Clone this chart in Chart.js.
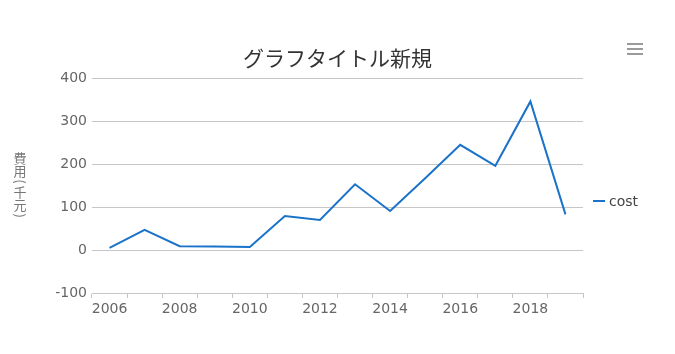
<!DOCTYPE html>
<html>
<head>
<meta charset="utf-8">
<script src="https://cdn.jsdelivr.net/npm/chart.js@4.4.0/dist/chart.umd.min.js"></script>
<style>
html,body{margin:0;padding:0;background:#fff;}
#wrap{width:675px;height:354px;}
</style>
</head>
<body>
<div id="wrap"><canvas id="c" width="675" height="354"></canvas></div>
<script>
const categories = ['2006','2007','2008','2009','2010','2011','2012','2013','2014','2015','2016','2017','2018','2019'];
const costValues = [5, 47, 9, 8, 7, 79, 70, 153, 91, 167, 245, 196, 346, 83];
const yTickValues = [-100, 0, 100, 200, 300, 400];
const chartTitle = 'グラフタイトル新規';
const yAxisTitle = '費用(千元)';
const seriesName = 'cost';

const lineColor = '#1a73c9';
const gridColor = '#c6c6c6';
const tickFont = {family: '"DejaVu Sans", Verdana, sans-serif', size: 14};

const extras = {
  id: 'extras',
  afterDraw(chart) {
    const ctx = chart.ctx;
    const area = chart.chartArea;
    ctx.save();
    // vertical y-axis title (upright CJK, rotated brackets)
    ctx.font = '13px "Noto Sans CJK JP", sans-serif';
    ctx.fillStyle = '#777';
    ctx.textAlign = 'center';
    ctx.textBaseline = 'middle';
    const chars = Array.from(yAxisTitle);
    const adv = chars.map(ch => /[()]/.test(ch) ? ctx.measureText(ch).width + 4 : 13);
    const total = adv.reduce((a, b) => a + b, 0);
    let y = (area.top + area.bottom) / 2 - total / 2;
    const x = 20;
    chars.forEach((ch, i) => {
      const cy = y + adv[i] / 2;
      if (/[()]/.test(ch)) {
        ctx.save();
        ctx.translate(x, cy);
        ctx.rotate(Math.PI / 2);
        ctx.fillText(ch, 0, 0);
        ctx.restore();
      } else {
        ctx.fillText(ch, x, cy);
      }
      y += adv[i];
    });

    // legend
    const ds = chart.data.datasets[0];
    const ly = 201;
    ctx.strokeStyle = ds.borderColor;
    ctx.lineWidth = 2;
    ctx.beginPath();
    ctx.moveTo(area.right + 10, ly);
    ctx.lineTo(area.right + 22, ly);
    ctx.stroke();
    ctx.font = '14px "DejaVu Sans", Verdana, sans-serif';
    ctx.fillStyle = '#444';
    ctx.textAlign = 'left';
    ctx.textBaseline = 'middle';
    ctx.fillText(ds.label, area.right + 26, ly + 1);

    // menu icon
    ctx.strokeStyle = '#9a9a9a';
    ctx.lineWidth = 2;
    [44, 49, 54].forEach(yy => {
      ctx.beginPath();
      ctx.moveTo(627, yy);
      ctx.lineTo(643, yy);
      ctx.stroke();
    });
    ctx.restore();
  }
};

new Chart(document.getElementById('c'), {
  type: 'line',
  data: {
    labels: categories,
    datasets: [{
      label: seriesName,
      data: costValues,
      borderColor: lineColor,
      backgroundColor: lineColor,
      borderWidth: 2,
      pointRadius: 0,
      pointHoverRadius: 0,
      tension: 0,
      fill: false
    }]
  },
  options: {
    responsive: false,
    animation: false,
    layout: {padding: 0},
    plugins: {
      legend: {display: false},
      tooltip: {enabled: false},
      title: {
        display: true,
        text: chartTitle,
        color: '#333',
        font: {family: '"Noto Sans CJK JP", sans-serif', size: 21, weight: 'normal'},
        padding: {top: 45, bottom: 8}
      }
    },
    scales: {
      x: {
        type: 'category',
        offset: true,
        afterFit(scale) { scale.height = 61; },
        grid: {
          offset: true,
          drawOnChartArea: false,
          drawTicks: true,
          tickLength: 5,
          color: gridColor
        },
        border: {display: true, color: gridColor, width: 1},
        ticks: {
          autoSkip: false,
          maxRotation: 0,
          minRotation: 0,
          padding: 3,
          color: '#666',
          font: tickFont,
          callback(val, idx) { return idx % 2 === 0 ? categories[idx] : ''; }
        }
      },
      y: {
        min: -100,
        max: 400,
        afterFit(scale) { scale.width = 92; },
        afterBuildTicks(scale) { scale.ticks = yTickValues.map(v => ({value: v})); },
        grid: {color: gridColor, drawTicks: false},
        border: {display: false},
        ticks: {
          padding: 5,
          color: '#666',
          font: tickFont
        }
      },
      spacer: {
        type: 'linear',
        position: 'right',
        display: true,
        afterFit(scale) { scale.width = 92; },
        grid: {display: false, drawTicks: false},
        border: {display: false},
        ticks: {display: false}
      }
    }
  },
  plugins: [extras]
});
</script>
</body>
</html>
